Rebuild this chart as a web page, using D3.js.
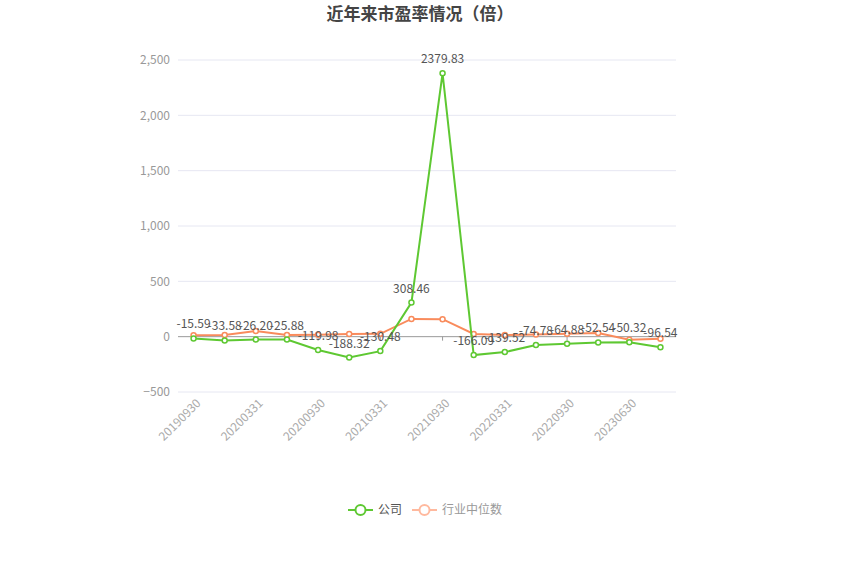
<!DOCTYPE html>
<html>
<head>
<meta charset="utf-8">
<script src="https://cdn.jsdelivr.net/npm/d3@7"></script>
<style>
  body { margin: 0; background: #fff; }
  svg { font-family: "Microsoft YaHei", "Noto Sans CJK SC", sans-serif; }
</style>
</head>
<body>
<svg id="chart" width="850" height="574"></svg>
<script>
// report dates (every other one is labelled on the axis)
const dates = ["20190930", "20191231", "20200331", "20200630", "20200930", "20201231",
  "20210331", "20210630", "20210930", "20211231", "20220331", "20220630",
  "20220930", "20221231", "20230630", "20230930"]
const company = [-15.59, -33.58, -26.20, -25.88, -119.98, -188.32, -130.48, 308.46,
  2379.83, -166.09, -139.52, -74.78, -64.88, -52.54, -50.32, -96.54]
const industry = [12, 15, 51, 15, 18, 24, 26, 160, 158, 24, 15, 20, 27, 33, -27, -18]
const yTicks = [-500, 0, 500, 1000, 1500, 2000, 2500]
const seriesNames = ["公司", "行业中位数"]
const colours = ["#5ec832", "#f98b5c"]

const svg = d3.select("#chart")
const plotLeft = 178, plotRight = 676, plotTop = 60, plotBottom = 392

const x = d3.scaleBand().domain(dates).range([plotLeft, plotRight])
const y = d3.scaleLinear().domain([-500, 2500]).range([plotBottom, plotTop])
const cx = d => x(d) + x.bandwidth() / 2

// title
svg.append("text")
  .attr("x", 420).attr("y", 20)
  .attr("text-anchor", "middle")
  .style("font-size", "17px").style("font-weight", "bold")
  .style("fill", "#444")
  .text("近年来市盈率情况（倍）")

// gridlines + y labels
let yAxis = svg.append("g")
yAxis.selectAll("line").data(yTicks.filter(d => d !== 0)).join("line")
  .attr("x1", plotLeft).attr("x2", plotRight)
  .attr("y1", d => y(d)).attr("y2", d => y(d))
  .style("stroke", "#e6e7f2").style("stroke-width", 1)
yAxis.selectAll("text").data(yTicks).join("text")
  .attr("x", 170).attr("y", d => y(d))
  .attr("text-anchor", "end").attr("dy", "0.35em")
  .style("font-size", "12px").style("fill", "#999")
  .text(d => d3.format(",")(d))

// x axis line sits on zero
svg.append("line")
  .attr("x1", plotLeft).attr("x2", plotRight)
  .attr("y1", y(0)).attr("y2", y(0))
  .style("stroke", "#999").style("stroke-width", 1)

let shown = dates.filter((d, i) => i % 2 === 0)
svg.append("g").selectAll("line").data(shown).join("line")
  .attr("x1", cx).attr("x2", cx)
  .attr("y1", y(0)).attr("y2", y(0) + 4)
  .style("stroke", "#999")
svg.append("g").selectAll("text").data(shown).join("text")
  .attr("transform", d => `translate(${cx(d) + 2},${plotBottom + 6}) rotate(-45)`)
  .attr("text-anchor", "end").attr("dy", "0.7em")
  .style("font-size", "12px").style("fill", "#aaa")
  .text(d => d)

// series
const line = d3.line().x((d, i) => cx(dates[i])).y(d => y(d))
;[industry, company].forEach((vals, k) => {
  let col = k === 0 ? colours[1] : colours[0]
  let g = svg.append("g")
  g.append("path").datum(vals)
    .attr("d", line)
    .style("fill", "none").style("stroke", col).style("stroke-width", 2)
  g.selectAll("circle").data(vals).join("circle")
    .attr("cx", (d, i) => cx(dates[i])).attr("cy", d => y(d))
    .attr("r", 2.5)
    .style("fill", "#fff").style("stroke", col).style("stroke-width", 1.5)
})

// value labels for the company series (they overlap in the original too)
svg.append("g").selectAll("text").data(company).join("text")
  .attr("x", (d, i) => cx(dates[i])).attr("y", d => y(d) - 10)
  .attr("text-anchor", "middle")
  .style("font-size", "12px").style("fill", "#555")
  .text(d => d.toFixed(2))

// legend
const legend = svg.append("g")
const items = [{ x: 348, name: seriesNames[0], col: colours[0], text: "#555" },
  { x: 412, name: seriesNames[1], col: "#ffb99e", text: "#999" }]
items.forEach(it => {
  legend.append("line")
    .attr("x1", it.x).attr("x2", it.x + 25)
    .attr("y1", 510).attr("y2", 510)
    .style("stroke", it.col).style("stroke-width", 2)
  legend.append("circle")
    .attr("cx", it.x + 12.5).attr("cy", 510).attr("r", 5)
    .style("fill", "#fff").style("stroke", it.col).style("stroke-width", 2)
  legend.append("text")
    .attr("x", it.x + 30).attr("y", 510).attr("dy", "0.35em")
    .style("font-size", "12px").style("fill", it.text)
    .text(it.name)
})
</script>
</body>
</html>
